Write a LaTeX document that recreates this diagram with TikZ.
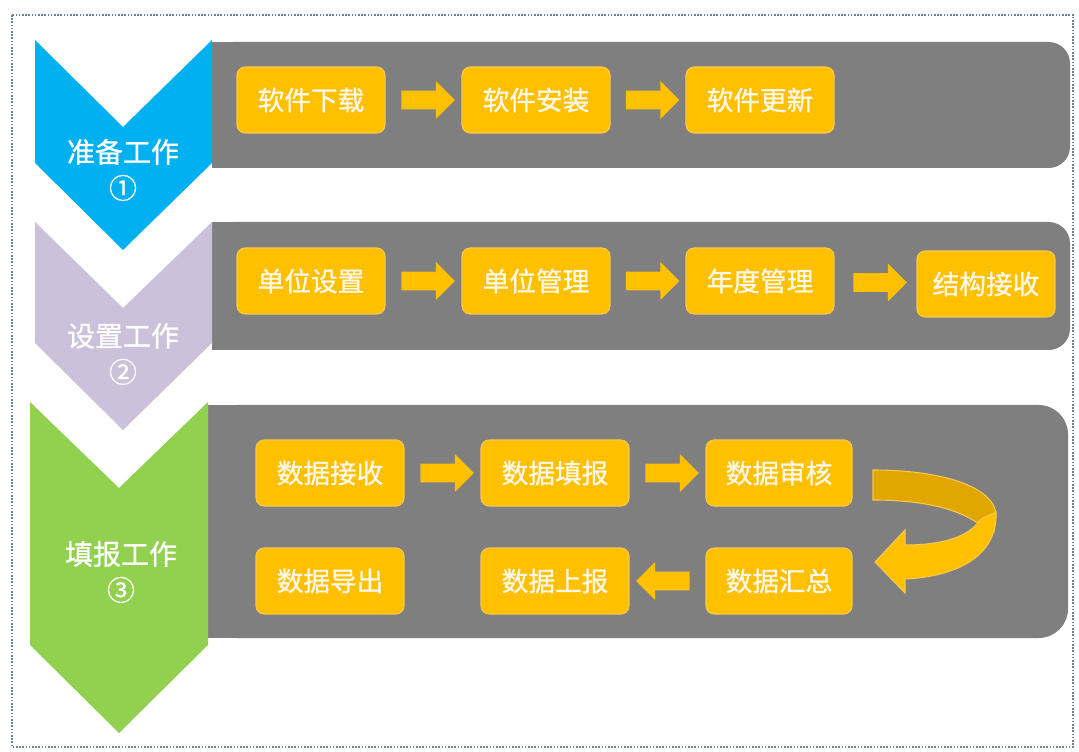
\documentclass[tikz,border=0pt]{standalone}
\usepackage{fontspec}
\newfontfamily\cjk[FakeBold=1]{Noto Sans CJK SC}
\usetikzlibrary{shapes.arrows,calc}
\definecolor{cblue}{HTML}{00B0F0}
\definecolor{clilac}{HTML}{CCC1DA}
\definecolor{cgreen}{HTML}{92D050}
\definecolor{cgray}{HTML}{7F7F7F}
\definecolor{corange}{HTML}{FFC000}
\definecolor{cdark}{HTML}{E2A600}
\definecolor{cedge}{HTML}{F7C84A}
\definecolor{cborder}{HTML}{6F819C}
\definecolor{ctext}{HTML}{FFF8EA}
\begin{document}
\begin{tikzpicture}[x=0.75pt,y=-0.75pt,
  stepbox/.style={rectangle, rounded corners=6pt, fill=corange, draw=cedge, line width=0.8pt,
    minimum width=111pt, minimum height=49.5pt, inner sep=0pt,
    font=\cjk\fontsize{20}{20}\selectfont, text=ctext},
  blockarr/.style={single arrow, fill=corange, draw=none, minimum height=40pt,
    inner sep=6.75pt, single arrow head extend=7.25pt, single arrow head indent=0pt},
  stagelabel/.style={align=center, text=white, font=\cjk\fontsize{21}{27}\selectfont, inner sep=0pt},
  panel/.style={fill=cgray}
]
\useasboundingbox (0,0) rectangle (1079,752);
\fill[white] (0,0) rectangle (1079,752);
\draw[cborder, line width=1.8pt, dash pattern=on 1.2pt off 1.2pt] (12,15) rectangle (1073,747);

% gray panels
\fill[panel, rounded corners=16pt] (212,42) rectangle (1070,168);
\fill[panel] (212,42) rectangle (300,168);
\fill[panel, rounded corners=16pt] (212,222) rectangle (1070,350);
\fill[panel] (212,222) rectangle (300,350);
\fill[panel, rounded corners=22pt] (208,405) rectangle (1068,638);
\fill[panel] (208,405) rectangle (300,638);

% chevrons
\fill[cblue] (35,40) -- (123,127) -- (212,40) -- (212,163) -- (123,250) -- (35,163) -- cycle;
\fill[clilac] (35,222) -- (123,308) -- (212,222) -- (212,343) -- (123,430) -- (35,343) -- cycle;
\fill[cgreen] (30,402) -- (119,488) -- (208,402) -- (208,645) -- (119,733) -- (30,645) -- cycle;

\node[stagelabel] (s1) at (123,170) {准备工作\\①};
\node[stagelabel] (s2) at (123,354) {设置工作\\②};
\node[stagelabel] (s3) at (121,572) {填报工作\\③};

% row 1
\node[stepbox] (a1) at (311,100) {软件下载};
\node[stepbox] (a2) at (536,100) {软件安装};
\node[stepbox] (a3) at (760,100) {软件更新};
\node[blockarr] (r1) at ($(a1.east)!0.5!(a2.west)$) {};
\node[blockarr] (r2) at ($(a2.east)!0.5!(a3.west)$) {};

% row 2
\node[stepbox] (b1) at (311,281) {单位设置};
\node[stepbox] (b2) at (536,281) {单位管理};
\node[stepbox] (b3) at (760,281) {年度管理};
\node[stepbox, minimum width=103.5pt] (b4) at (986,284) {结构接收};
\node[blockarr] (r3) at ($(b1.east)!0.5!(b2.west)$) {};
\node[blockarr] (r4) at ($(b2.east)!0.5!(b3.west)$) {};
\node[blockarr] (r5) at ($(b3.east)!0.5!(b4.west)$) {};

% row 3
\node[stepbox] (c1) at (330,473) {数据接收};
\node[stepbox] (c2) at (555,473) {数据填报};
\node[stepbox, minimum width=109.5pt] (c3) at (779,473) {数据审核};
\node[stepbox] (d1) at (330,581) {数据导出};
\node[stepbox] (d2) at (555,581) {数据上报};
\node[stepbox, minimum width=109.5pt] (d3) at (779,581) {数据汇总};
\node[blockarr] (r6) at ($(c1.east)!0.5!(c2.west)$) {};
\node[blockarr] (r7) at ($(c2.east)!0.5!(c3.west)$) {};
\node[blockarr, shape border rotate=180] (r8) at ($(d2.east)!0.5!(d3.west)$) {};

% U-turn arrow from c3 to d3
\filldraw[fill=cdark, draw=cedge, line width=0.8pt]
  (873,470) .. controls (945,470) and (995,488) .. (996,515)
  -- (994,532) -- (976,522) .. controls (955,508) and (920,500) .. (873,500) -- cycle;
\filldraw[fill=corange, draw=cedge, line width=0.8pt]
  (996,512) .. controls (998,560) and (950,577) .. (905,579)
  -- (905,593) -- (875,562) -- (905,530) -- (905,545)
  .. controls (940,545) and (968,538) .. (980,520)
  .. controls (986,516) and (992,514) .. (996,512) -- cycle;
\end{tikzpicture}
\end{document}
